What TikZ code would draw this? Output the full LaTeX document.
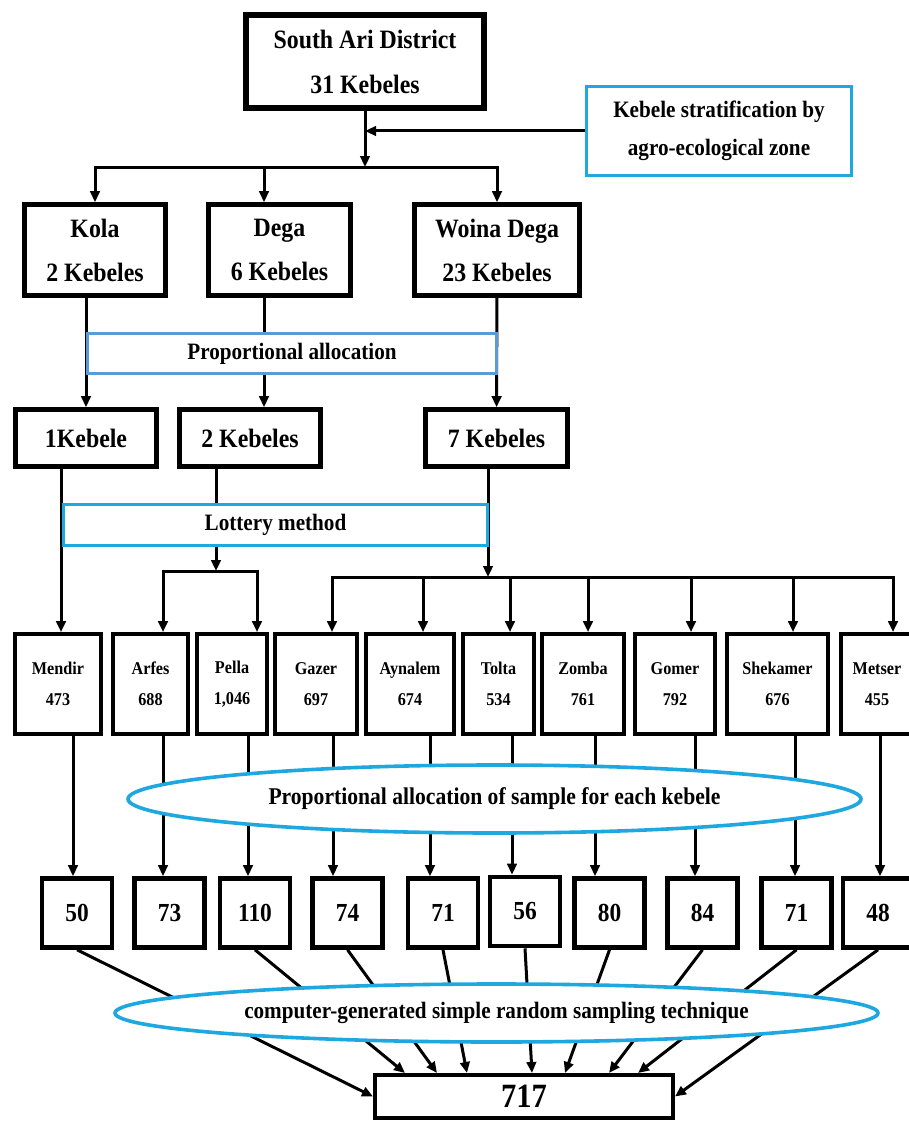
\documentclass[tikz,border=0pt]{standalone}
\usepackage{fontspec}
\setmainfont{Liberation Serif}[FakeStretch=0.9]
\usetikzlibrary{arrows.meta,shapes.geometric,backgrounds}
\definecolor{skyline}{HTML}{1FA8E0}
\definecolor{steelline}{HTML}{5B9BD5}
\tikzset{
  blk/.style={draw,line width=4.6pt,inner sep=0pt,align=center},
  headbox/.style={blk,line width=5.5pt,minimum width=238pt,minimum height=93pt,font=\fontsize{26.5}{45}\selectfont\bfseries},
  zone/.style={blk,minimum height=91pt,font=\fontsize{26.5}{44}\selectfont\bfseries},
  pick/.style={blk,minimum width=141pt,minimum height=57pt,font=\fontsize{26.5}{30}\selectfont\bfseries},
  site/.style={blk,line width=3.8pt,minimum height=100pt,font=\fontsize{18}{31}\selectfont\bfseries},
  share/.style={blk,minimum width=70pt,minimum height=69pt,font=\fontsize{26}{30}\selectfont\bfseries},
  note/.style={draw=skyline,line width=3.2pt,fill=white,inner sep=0pt,align=center,font=\fontsize{23.5}{38}\selectfont\bfseries},
  oval/.style={note,ellipse,line width=3.6pt},
  go/.style={line width=3pt,-{Triangle[length=11pt,width=9.5pt]}}
}
\begin{document}
\begin{tikzpicture}[x=1pt,y=-1pt]
\useasboundingbox (0,0) rectangle (908,1121);
\node[headbox] (top) at (365,61.5) {South Ari District\\31 Kebeles};
\node[note,minimum width=265pt,minimum height=89pt] (strat) at (719,131) {Kebele stratification by\\agro-ecological zone};
\node[zone,minimum width=141pt] (kola) at (95,250) {Kola\\2 Kebeles};
\node[zone,minimum width=142pt] (dega) at (279.5,250) {Dega\\6 Kebeles};
\node[zone,minimum width=165pt] (woina) at (497,250) {Woina Dega\\23 Kebeles};
\node[note,draw=steelline,minimum width=409pt,minimum height=40pt] (prop) at (292,353.5) {Proportional allocation};
\node[pick] (one) at (86,438) {1Kebele};
\node[pick] (two) at (250,438) {2 Kebeles};
\node[pick,minimum width=142pt] (seven) at (496.5,438) {7 Kebeles};
\node[note,minimum width=424pt,minimum height=41pt] (lot) at (275.5,525) {Lottery method};
\foreach \n/\x/\w/\lab/\pop in {mendir/58/86/Mendir/473,arfes/150.5/75/Arfes/688,pella/232/70/Pella/1{,}046,gazer/316/82/Gazer/697,aynalem/410/88/Aynalem/674,tolta/498.5/71/Tolta/534,zomba/583/82/Zomba/761,gomer/675/80/Gomer/792,shekamer/777.5/101/Shekamer/676,metser/877/72/Metser/455}
  \node[site,minimum width=\w pt] (\n) at (\x,684) {\lab\\\pop};
\foreach \m/\x/\y/\k in {r1/77/913/50,r2/169.5/913/73,r3/255/913/110,r4/347.5/913/74,r5/443/913/71,r6/525/911.5/56,r7/609.5/913/80,r8/702.5/913/84,r9/796.5/913/71,r10/878/913/48}
  \node[share] (\m) at (\x,\y) {\k};
\node[oval,minimum width=733pt,minimum height=68pt,font=\fontsize{24}{28}\selectfont\bfseries] (alloc) at (494.5,799) {Proportional allocation of sample for each kebele};
\node[oval,minimum width=763pt,minimum height=58pt] (srs) at (496.5,1013) {computer-generated simple random sampling technique};
\node[blk,line width=4pt,minimum width=298pt,minimum height=43pt,font=\fontsize{34}{40}\selectfont\bfseries] (total) at (524,1096.5) {717};
\coordinate (split) at (365,167);
\coordinate (dcol) at (264,0);
\coordinate (pair) at (216,571);
\coordinate (fan) at (488,577);
\foreach \n/\i/\o in {mendir/3/15,arfes/12.5/12.5,pella/25/16,gazer/16/17,aynalem/13/20,tolta/11.5/13.5,zomba/5/12,gomer/16/20,shekamer/15.5/17.5,metser/16/3} {
  \coordinate (\n-in) at ([xshift=\i pt]\n.north);
  \coordinate (\n-out) at ([xshift=\o pt]\n.south);
}
\begin{scope}[on background layer]
\draw[go] (top) -- (split);
\draw[go] (strat) -- (strat -| split);
\draw[go] (split) -| (kola);
\draw[go] (split) -| (dcol |- dega.north);
\draw[go] (split) -| (woina);
\draw[go] (kola.south -| one) -- (one);
\draw[go] (dcol |- dega.south) -- (dcol |- two.north);
\draw[go] (woina) -- (seven);
\draw[go] (one.south -| mendir-in) -- (mendir-in);
\draw[go] (two.south -| pair) -- (pair);
\draw[go] (pair) -| (arfes-in);
\draw[go] (pair) -| (pella-in);
\draw[go] (seven.south -| fan) -- (fan);
\foreach \n in {gazer,aynalem,tolta,zomba,gomer,shekamer,metser}
  \draw[go] (fan) -| (\n-in);
\foreach \n/\m in {mendir/r1,arfes/r2,pella/r3,gazer/r4,aynalem/r5,tolta/r6,zomba/r7,gomer/r8,shekamer/r9,metser/r10}
  \draw[go] (\n-out) -- (\n-out |- \m.north);
\draw[go] (r1.south) -- (total.west);
\foreach \m/\s in {r3/-119,r4/-87,r5/-57,r6/8,r7/41,r8/85,r9/114}
  \draw[go] (\m.south) -- ([xshift=\s pt]total.north);
\draw[go] (r10.south) -- (total.east);
\end{scope}
\end{tikzpicture}
\end{document}
